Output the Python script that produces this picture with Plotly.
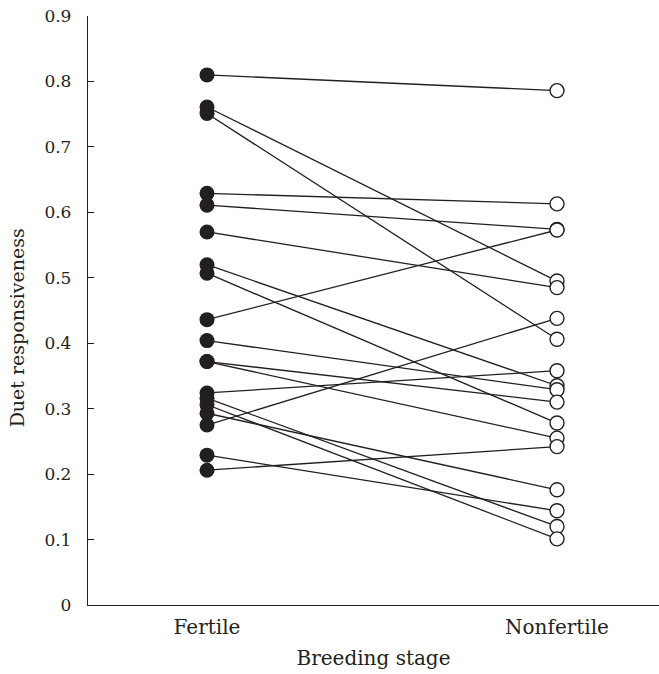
import plotly.graph_objects as go

categories = ["Fertile", "Nonfertile"]
fertile = [0.810, 0.761, 0.751, 0.629, 0.611, 0.570, 0.520, 0.507, 0.436, 0.404,
           0.372, 0.372, 0.324, 0.316, 0.306, 0.293, 0.275, 0.229, 0.206]
nonfertile = [0.786, 0.495, 0.406, 0.613, 0.574, 0.485, 0.335, 0.278, 0.573, 0.329,
              0.310, 0.255, 0.358, 0.120, 0.101, 0.176, 0.438, 0.144, 0.242]
y_ticks = [0, 0.1, 0.2, 0.3, 0.4, 0.5, 0.6, 0.7, 0.8, 0.9]
y_ticktext = ["0", "0.1", "0.2", "0.3", "0.4", "0.5", "0.6", "0.7", "0.8", "0.9"]

FONT = "DejaVu Serif"

fig = go.Figure()

lx, ly = [], []
for a, b in zip(fertile, nonfertile):
    lx += [0, 1, None]
    ly += [a, b, None]
fig.add_trace(go.Scatter(x=lx, y=ly, mode="lines",
                         line=dict(color="#231f20", width=1.3),
                         hoverinfo="skip", showlegend=False))
fig.add_trace(go.Scatter(x=[0] * len(fertile), y=fertile, mode="markers",
                         marker=dict(size=15, color="#231f20",
                                     line=dict(color="#231f20", width=0)),
                         showlegend=False, name=categories[0]))
fig.add_trace(go.Scatter(x=[1] * len(nonfertile), y=nonfertile, mode="markers",
                         marker=dict(size=14, color="white",
                                     line=dict(color="#231f20", width=1.4)),
                         showlegend=False, name=categories[1]))

fig.update_layout(
    width=659, height=674,
    margin=dict(l=88, r=0, t=16, b=69),
    paper_bgcolor="white", plot_bgcolor="white",
    font=dict(family=FONT, size=17, color="#231f20"),
    xaxis=dict(range=[-0.34, 1.2914], tickvals=[0, 1], ticktext=categories,
               showgrid=False, zeroline=False, showline=True,
               linecolor="#231f20", linewidth=1.3, ticks="",
               tickfont=dict(size=20), ticklabelstandoff=4,
               title=dict(text="Breeding stage", font=dict(size=20), standoff=12)),
    yaxis=dict(range=[0, 0.9], tickvals=y_ticks, ticktext=y_ticktext,
               showgrid=False, zeroline=False, showline=True,
               linecolor="#231f20", linewidth=1.3, ticks="inside",
               ticklen=6, tickwidth=1.2, tickcolor="#231f20",
               tickfont=dict(size=17), ticklabelstandoff=12),
    annotations=[dict(text="Duet responsiveness", textangle=-90,
                      xref="paper", yref="paper", x=-0.124, y=0.47,
                      xanchor="center", yanchor="middle", showarrow=False,
                      font=dict(size=19, family=FONT, color="#231f20"))],
)

fig.write_html("out.html")
